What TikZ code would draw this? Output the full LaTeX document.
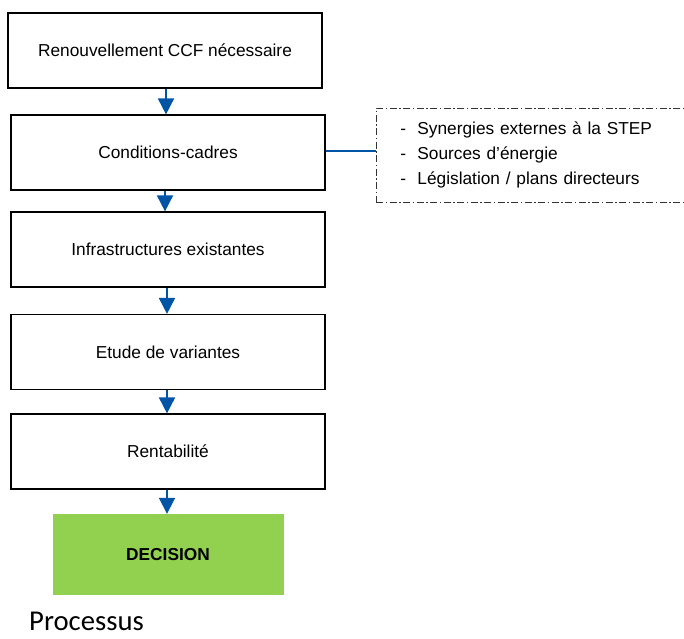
\documentclass[tikz,border=0pt]{standalone}
\usepackage{fontspec}
\setmainfont{Liberation Sans}
\newfontfamily\captionfont{Carlito}
\usetikzlibrary{arrows.meta}
\definecolor{flowblue}{RGB}{0,84,166}
\definecolor{decgreen}{RGB}{146,208,80}

\begin{document}
\begin{tikzpicture}[x=1pt,y=-1pt,
    stepbox/.style={draw=black, line width=1.2pt, minimum width=314pt, minimum height=75pt,
      inner sep=0pt, font=\fontsize{17.3}{25}\selectfont},
    flow/.style={draw=flowblue, line width=1.8pt, -{Triangle[width=16pt,length=16pt]}},
    sidebox/.style={draw=black!80, line width=0.9pt, dash pattern=on 7pt off 2.5pt on 1.5pt off 2.5pt,
      minimum height=94pt, text width=300pt, inner xsep=24pt, align=left,
      font=\fontsize{17.3}{25}\selectfont}]
  \clip (0,0) rectangle (684,638);

  % main chain
  \node[stepbox] (renew) at (165,50.5) {Renouvellement CCF nécessaire};
  \node[stepbox] (cond) at (168,152.5) {Conditions-cadres};
  \node[stepbox] (infra) at (168,249.5) {Infrastructures existantes};
  \node[stepbox] (variants) at (168,352) {Etude de variantes};
  \node[stepbox] (rentab) at (168,451.5) {Rentabilité};
  \node[fill=decgreen, minimum width=231pt, minimum height=81pt, inner sep=0pt,
    font=\fontsize{17.3}{25}\selectfont\bfseries] (decision) at (168,554.5) {DECISION};

  % side note
  \node[sidebox, anchor=west] (factors) at (376,155) {%
    -\hspace{11.2pt}Synergies externes à la STEP\\
    -\hspace{11.2pt}Sources d’énergie\\
    -\hspace{11.2pt}Législation / plans directeurs};

  % arrows
  \draw[flow] (renew.south -| 166,0) -- (cond.north -| 166,0);
  \draw[flow] (cond.south -| 165,0) -- (infra.north -| 165,0);
  \draw[flow] (infra.south -| 167,0) -- (variants.north -| 167,0);
  \draw[flow] (variants.south -| 167,0) -- (rentab.north -| 167,0);
  \draw[flow] (rentab.south -| 167,0) -- (decision.north -| 167,0);
  \draw[flowblue, line width=1.2pt] (cond.east) ++(0,-1.5) coordinate (link) -- (link -| factors.west);

  \node[anchor=base west, inner sep=0pt, font=\captionfont\fontsize{28.7}{30}\selectfont] (caption) at (29,630) {Processus};
\end{tikzpicture}
\end{document}
